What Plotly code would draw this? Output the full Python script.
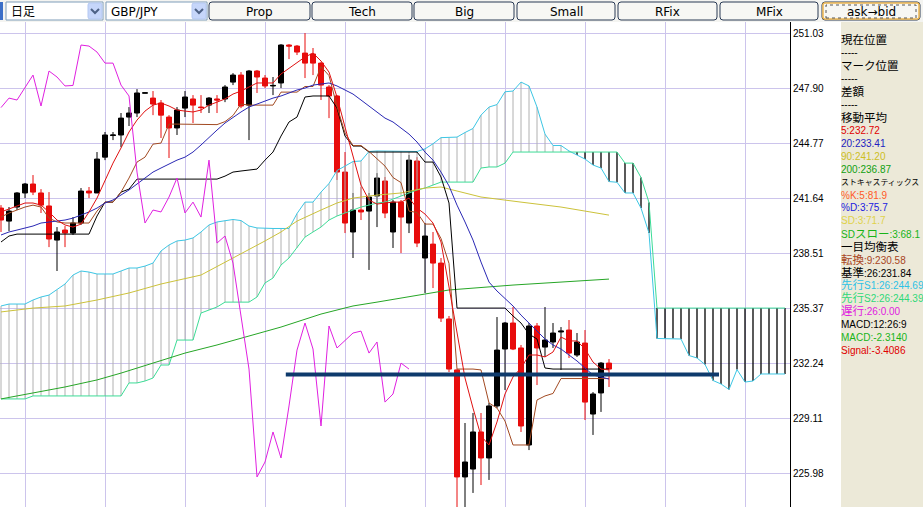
import plotly.graph_objects as go

# ---------------- DATA ----------------
bars = list(range(77))
opens = [241.07, 240.33, 241.13, 241.93, 242.44, 241.93, 241.19, 239.25, 239.82, 239.65,
         240.22, 242.04, 241.93, 243.97, 245.20, 245.23, 246.25, 246.48, 247.61, 247.33,
         247.05, 246.25, 245.63, 246.76, 247.28, 246.82, 246.93, 247.28, 247.28, 248.24,
         248.64, 246.93, 248.87, 248.47, 248.02, 248.19, 250.35, 250.29, 249.89, 249.84,
         249.32, 247.96, 247.45, 243.12, 239.71, 240.96, 240.90, 241.76, 242.61, 239.71,
         241.41, 240.22, 243.75, 238.23, 239.02, 237.94, 234.76, 231.86, 225.77, 226.22,
         228.33, 226.85, 229.81, 233.05, 234.53, 233.11, 227.59, 234.36, 233.16, 233.45,
         234.02, 234.13, 232.71, 233.39, 229.35, 230.55, 232.25]
highs = [241.24, 241.13, 241.98, 242.50, 242.95, 242.15, 241.98, 239.99, 240.05, 240.56,
         242.21, 242.27, 244.26, 245.40, 245.40, 246.48, 246.82, 247.84, 247.65, 247.73,
         247.22, 246.36, 246.82, 247.73, 247.50, 247.50, 247.39, 247.50, 248.07, 248.75,
         248.81, 248.93, 248.93, 248.64, 248.53, 250.40, 250.40, 250.35, 251.03, 250.18,
         249.38, 248.07, 247.50, 244.26, 241.93, 242.27, 241.93, 243.06, 242.84, 241.53,
         241.53, 244.09, 243.97, 240.22, 239.71, 238.23, 234.93, 231.90, 228.84, 229.41,
         229.41, 229.98, 234.87, 234.59, 235.44, 233.28, 234.53, 234.53, 235.44, 234.53,
         234.30, 234.70, 233.96, 234.13, 230.60, 232.31, 232.48]
lows = [239.71, 239.76, 240.96, 241.64, 241.81, 240.79, 238.85, 237.49, 238.85, 239.54,
        240.11, 241.64, 241.93, 243.80, 244.94, 244.54, 245.74, 246.25, 247.60, 246.36,
        245.06, 243.92, 245.23, 246.25, 245.91, 246.48, 246.48, 246.48, 247.10, 248.07,
        246.76, 244.94, 247.62, 247.90, 247.50, 247.90, 249.55, 249.78, 248.47, 248.64,
        247.22, 246.19, 242.67, 239.65, 238.23, 240.39, 237.55, 239.99, 240.50, 238.80,
        238.51, 239.65, 238.85, 236.24, 236.52, 234.59, 231.74, 219.70, 219.70, 224.86,
        225.31, 225.60, 229.69, 230.72, 232.99, 228.33, 227.30, 231.00, 232.60, 233.11,
        231.86, 232.54, 232.60, 229.01, 228.16, 229.47, 230.89]
closes = [240.39, 240.90, 241.93, 242.44, 241.98, 241.24, 239.31, 239.71, 239.65, 240.22,
          242.04, 241.93, 243.86, 245.23, 245.23, 246.19, 246.48, 247.62, 247.63, 246.99,
          246.36, 245.63, 246.65, 247.39, 246.93, 246.79, 247.33, 247.22, 247.96, 248.64,
          246.88, 248.87, 248.53, 248.02, 248.05, 250.35, 250.29, 249.95, 249.32, 249.32,
          248.07, 247.45, 243.12, 240.22, 240.96, 240.85, 241.70, 242.78, 240.79, 241.41,
          240.56, 243.80, 239.08, 239.48, 237.94, 234.81, 231.91, 225.77, 226.62, 228.33,
          226.85, 229.81, 232.99, 234.53, 233.05, 228.67, 234.36, 233.11, 233.56, 233.96,
          234.07, 232.82, 233.45, 230.03, 230.49, 232.25, 231.91]

ma5 = [240.85, 241.02, 241.19, 241.36, 241.36, 241.24, 240.85, 240.39, 240.11, 239.99,
       240.16, 240.85, 241.64, 242.67, 243.63, 244.49, 245.40, 246.08, 246.59, 246.93,
       247.05, 246.88, 246.65, 246.59, 246.54, 246.65, 246.93, 247.10, 247.28, 247.56,
       247.73, 247.96, 248.19, 248.19, 248.19, 248.70, 249.04, 249.38, 249.67, 249.89,
       249.44, 248.81, 247.39, 245.68, 243.97, 242.38, 241.53, 241.30, 241.36, 241.41,
       241.41, 241.64, 241.07, 240.73, 240.22, 239.14, 236.58, 233.96, 231.40, 229.69,
       228.10, 227.59, 228.90, 230.49, 231.46, 231.97, 232.71, 232.71, 232.60, 232.88,
       233.73, 233.51, 233.51, 233.05, 232.31, 231.91, 231.86]
ma20 = [239.54, 239.71, 239.82, 239.94, 240.05, 240.22, 240.28, 240.33, 240.39, 240.50,
        240.67, 240.85, 241.07, 241.36, 241.53, 241.81, 242.10, 242.44, 242.78, 243.12,
        243.35, 243.58, 243.80, 243.97, 244.26, 244.66, 245.11, 245.51, 245.91, 246.25,
        246.54, 246.82, 246.99, 247.16, 247.33, 247.45, 247.62, 247.79, 247.90, 248.07,
        248.13, 248.19, 248.02, 247.79, 247.56, 247.22, 246.88, 246.54, 246.19, 245.97,
        245.63, 245.28, 244.83, 244.26, 243.80, 243.12, 242.33, 241.24, 240.28, 239.25,
        238.00, 236.86, 236.35, 235.95, 235.50, 234.98, 234.53, 234.13, 233.62, 233.28,
        233.05, 232.71, 232.37, 231.97, 231.57, 231.46, 231.34]
ma90_bar = [0, 4, 8, 12, 16, 20, 25, 29, 31, 33, 35, 37, 40, 42, 44, 47, 50, 53, 55, 60, 65, 70, 76]
ma90 = [235.16, 235.38, 235.50, 235.84, 236.24, 236.75, 237.26, 238.23, 238.68, 239.20, 239.71,
        240.33, 240.96, 241.36, 241.64, 241.81, 241.93, 242.21, 242.27, 241.70, 241.41, 241.13, 240.67]
ma200_bar = [0, 4, 8, 12, 15, 19, 23, 27, 31, 35, 40, 44, 47, 50, 56, 64, 70, 76]
ma200 = [230.21, 230.55, 230.89, 231.29, 231.68, 232.25, 232.82, 233.28, 233.79, 234.30,
         235.04, 235.50, 235.72, 235.95, 236.41, 236.69, 236.86, 237.03]

tenkan = [240.56, 240.79, 240.96, 241.13, 241.24, 241.13, 240.50, 240.28, 240.22, 240.22,
          240.22, 240.22, 240.90, 241.41, 241.41, 241.98, 242.78, 243.69, 243.97, 244.71,
          244.77, 245.85, 245.85, 245.85, 245.85, 245.85, 245.82, 245.82, 245.99, 246.34,
          246.99, 246.93, 246.93, 246.93, 246.93, 247.67, 247.67, 247.67, 247.99, 247.99,
          249.12, 248.61, 246.85, 245.34, 244.63, 244.63, 244.29, 243.86, 243.46, 242.81,
          242.52, 240.90, 240.82, 240.16, 240.16, 239.34, 237.92, 231.91, 231.91, 231.91,
          231.86, 229.98, 229.69, 228.95, 227.59, 227.59, 227.59, 230.15, 230.38, 230.52,
          231.37, 231.37, 231.37, 231.37, 231.37, 231.37, 231.37]
kijun = [239.14, 239.48, 239.59, 239.59, 239.59, 239.59, 239.59, 239.59, 239.59, 239.59,
         239.59, 239.59, 240.62, 241.41, 241.41, 241.98, 242.15, 242.72, 242.72, 242.72,
         242.72, 242.72, 242.72, 242.72, 242.72, 242.72, 242.72, 242.72, 242.89, 243.12,
         243.18, 243.24, 243.29, 243.80, 244.26, 245.17, 245.97, 246.25, 247.39, 247.45,
         247.45, 247.45, 246.76, 245.17, 244.60, 244.60, 244.26, 244.26, 244.26, 244.26,
         244.26, 244.26, 244.26, 243.69, 243.69, 242.84, 241.36, 235.38, 235.38, 235.38,
         235.38, 235.38, 235.38, 235.38, 234.93, 234.53, 233.90, 233.62, 231.97, 231.91,
         231.91, 231.91, 231.91, 231.91, 231.91, 231.91, 231.91]

span_bar = list(range(99))
span1 = [235.50, 235.61, 235.61, 235.61, 235.84, 236.01, 236.12, 236.41, 236.75, 237.26,
         237.49, 237.43, 237.32, 237.32, 237.32, 237.49, 237.66, 237.66, 237.77, 237.94,
         238.63, 238.97, 239.20, 239.25, 239.37, 239.71, 240.11, 240.28, 240.36, 240.42,
         240.36, 240.05, 239.94, 239.91, 239.91, 239.91, 239.91, 240.76, 241.41, 241.41,
         241.98, 242.47, 243.21, 243.46, 243.72, 243.75, 244.29, 244.32, 244.32, 244.32,
         244.32, 244.29, 244.29, 244.44, 244.73, 245.08, 245.08, 245.11, 245.37, 245.60,
         246.36, 246.82, 246.96, 247.69, 247.73, 248.24, 248.02, 246.82, 245.28, 244.63,
         244.63, 244.32, 244.09, 243.86, 243.52, 243.35, 242.58, 242.54, 241.93, 241.93,
         241.07, 239.65, 233.65, 233.65, 233.65, 233.62, 232.68, 232.54, 232.17, 231.26,
         231.06, 230.75, 231.88, 231.17, 231.23, 231.63, 231.63, 231.63, 231.63]
span2 = [230.21, 230.21, 230.21, 230.21, 230.38, 230.38, 230.38, 230.38, 230.38, 230.38,
         230.38, 230.38, 230.38, 230.38, 230.38, 230.38, 231.12, 231.12, 231.23, 231.40,
         232.14, 232.14, 233.56, 233.56, 233.56, 235.10, 235.27, 235.44, 235.72, 235.72,
         235.72, 235.72, 236.01, 236.81, 237.09, 237.83, 238.23, 238.80, 239.42, 239.71,
         239.99, 240.39, 240.62, 240.79, 240.96, 241.13, 241.24, 241.36, 241.41, 241.59,
         241.76, 241.93, 242.10, 242.21, 242.38, 242.55, 242.55, 242.55, 242.55, 242.55,
         243.35, 243.41, 243.41, 243.63, 244.26, 244.26, 244.26, 244.26, 244.26, 244.26,
         244.26, 244.26, 244.26, 244.26, 244.26, 244.26, 244.26, 244.26, 243.63, 243.63,
         242.81, 241.39, 235.38, 235.38, 235.38, 235.38, 235.38, 235.38, 235.38, 235.38,
         235.38, 235.38, 235.38, 235.38, 235.38, 235.38, 235.38, 235.38, 235.38]
lag_shift = 25

trend_price = 231.60
trend_from = 35.6
trend_to = 89.75

price_ticks = [225.98, 229.11, 232.24, 235.37, 238.51, 241.64, 244.77, 247.90, 251.03]
grid_bars = [3, 13, 23, 33, 43, 53, 63, 73, 83, 93]

panel_rows = [
    ("現在位置", "#000000"), ("-----", "#000000"), ("マーク位置", "#000000"), ("-----", "#000000"),
    ("差額", "#000000"), ("-----", "#000000"), ("移動平均", "#000000"),
    ("5:232.72", "#E00000"), ("20:233.41", "#2222C0"), ("90:241.20", "#CDBE1E"),
    ("200:236.87", "#10A010"), ("ストキャスティックス", "#000000"), ("%K:5:81.9", "#FF5A28"),
    ("%D:3:75.7", "#2020E0"), ("SD:3:71.7", "#E0D24A"), ("SDスロー:3:68.1", "#18B418"),
    ("一目均衡表", "#000000"), ("転換:9:230.58", "#A8461E"), ("基準:26:231.84", "#000000"),
    ("先行S1:26:244.69", "#2EC2E6"), ("先行S2:26:244.39", "#30D878"), ("遅行:26:0.00", "#E020E0"),
    ("MACD:12:26:9", "#000000"), ("MACD:-2.3140", "#18B418"), ("Signal:-3.4086", "#E00000"),
]
buttons = ["Prop", "Tech", "Big", "Small", "RFix", "MFix", "ask→bid"]
dropdowns = ["日足", "GBP/JPY"]

# ---------------- FIGURE ----------------
W, H = 923, 507
PW, TOP = 790, 22
PH = H - TOP


def px(x):
    return x / PW


def py(y):
    return (H - y) / PH


def mixed(txt, cjk_size=11.5):
    """Latin runs small, CJK runs larger (mimics the proportional UI font)."""
    out, run, run_cjk = [], "", None
    for ch in txt:
        c = ord(ch) > 0x2000
        if run_cjk is None or c == run_cjk:
            run += ch
        else:
            out.append((run, run_cjk)); run = ch
        run_cjk = c
    if run:
        out.append((run, run_cjk))
    return "".join(f'<span style="font-size:{cjk_size}px">{r}</span>' if c else r for r, c in out)


fig = go.Figure()

# cloud hatching
gx, gy, bx, by = [], [], [], []
for j, a, b in zip(span_bar, span1, span2):
    if a >= b:
        gx += [j, j, None]; gy += [a, b, None]
    else:
        bx += [j, j, None]; by += [a, b, None]
fig.add_trace(go.Scatter(x=gx, y=gy, mode="lines", line=dict(color="#B0B0B0", width=1),
                         hoverinfo="skip", showlegend=False))
fig.add_trace(go.Scatter(x=bx, y=by, mode="lines", line=dict(color="#000000", width=1.3),
                         hoverinfo="skip", showlegend=False))
fig.add_trace(go.Scatter(x=span_bar, y=span1, mode="lines", line=dict(color="#3CC6E4", width=1),
                         hoverinfo="skip", showlegend=False))
fig.add_trace(go.Scatter(x=span_bar, y=span2, mode="lines", line=dict(color="#3CDC96", width=1),
                         hoverinfo="skip", showlegend=False))
fig.add_trace(go.Scatter(x=ma200_bar, y=ma200, mode="lines", line=dict(color="#26A626", width=1),
                         hoverinfo="skip", showlegend=False))
fig.add_trace(go.Scatter(x=ma90_bar, y=ma90, mode="lines", line=dict(color="#CCC23A", width=1),
                         hoverinfo="skip", showlegend=False))

fig.add_trace(go.Candlestick(
    x=bars, open=opens, high=highs, low=lows, close=closes,
    increasing=dict(line=dict(color="#000000", width=1), fillcolor="#000000"),
    decreasing=dict(line=dict(color="#E80C0C", width=1), fillcolor="#E80C0C"),
    whiskerwidth=0, hoverinfo="skip", showlegend=False))

fig.add_trace(go.Scatter(x=bars, y=kijun, mode="lines", line=dict(color="#000000", width=1),
                         hoverinfo="skip", showlegend=False))
fig.add_trace(go.Scatter(x=bars, y=tenkan, mode="lines", line=dict(color="#A24A22", width=1),
                         hoverinfo="skip", showlegend=False))
fig.add_trace(go.Scatter(x=bars, y=ma20, mode="lines", line=dict(color="#2A28B4", width=1),
                         hoverinfo="skip", showlegend=False))
fig.add_trace(go.Scatter(x=bars, y=ma5, mode="lines", line=dict(color="#E01010", width=1),
                         hoverinfo="skip", showlegend=False))
fig.add_trace(go.Scatter(x=bars[:len(bars) - lag_shift], y=closes[lag_shift:], mode="lines",
                         line=dict(color="#E020E0", width=1), hoverinfo="skip", showlegend=False))
fig.add_trace(go.Scatter(x=[trend_from, trend_to], y=[trend_price, trend_price], mode="lines",
                         line=dict(color="#0E3A6C", width=4), hoverinfo="skip", showlegend=False))

shapes = []
annotations = []

# right info panel
shapes.append(dict(type="rect", xref="paper", yref="paper", x0=px(841), x1=px(W), y0=py(H), y1=py(TOP),
                   fillcolor="#ECE9D8", line=dict(width=0), layer="above"))
for k, (txt, col) in enumerate(panel_rows):
    cjk_size = 7.9 if txt == "ストキャスティックス" else 11.5
    annotations.append(dict(xref="paper", yref="paper", x=px(839.5), y=py(40 + 12.92 * k),
                            xanchor="left", yanchor="middle", text=mixed(txt, cjk_size), showarrow=False,
                            font=dict(family="Liberation Sans, Noto Sans CJK JP, sans-serif",
                                      size=10, color=col)))

# toolbar
shapes.append(dict(type="rect", xref="paper", yref="paper", x0=px(0), x1=px(W), y0=py(TOP), y1=py(0),
                   fillcolor="#F4F4F1", line=dict(width=0), layer="above"))


def rrect(x0, y0, x1, y1, r):
    pts = [
        f"M{px(x0 + r)},{py(y0)}", f"L{px(x1 - r)},{py(y0)}", f"Q{px(x1)},{py(y0)} {px(x1)},{py(y0 + r)}",
        f"L{px(x1)},{py(y1 - r)}", f"Q{px(x1)},{py(y1)} {px(x1 - r)},{py(y1)}",
        f"L{px(x0 + r)},{py(y1)}", f"Q{px(x0)},{py(y1)} {px(x0)},{py(y1 - r)}",
        f"L{px(x0)},{py(y0 + r)}", f"Q{px(x0)},{py(y0)} {px(x0 + r)},{py(y0)}", "Z"]
    return " ".join(pts)


shapes.append(dict(type="rect", xref="paper", yref="paper", x0=px(0), x1=px(3), y0=py(20), y1=py(2),
                   fillcolor="#3C6FC8", line=dict(width=0), layer="above"))
dd_boxes = [(6, 103), (106, 207)]
for (x0, x1), txt in zip(dd_boxes, dropdowns):
    shapes.append(dict(type="rect", xref="paper", yref="paper", x0=px(x0), x1=px(x1), y0=py(20), y1=py(2),
                       fillcolor="#FFFFFF", line=dict(color="#7F9DB9", width=1), layer="above"))
    shapes.append(dict(type="path", xref="paper", yref="paper", path=rrect(x1 - 15, 3, x1 - 1, 19, 2),
                       fillcolor="#C6D6FA", line=dict(color="#B4C8F2", width=1), layer="above"))
    cx = x1 - 8
    shapes.append(dict(type="path", xref="paper", yref="paper",
                       path=f"M{px(cx - 4)},{py(9)} L{px(cx)},{py(13)} L{px(cx + 4)},{py(9)}",
                       line=dict(color="#4D6185", width=2), layer="above"))
    annotations.append(dict(xref="paper", yref="paper", x=px(x0 + 3), y=py(11.5), xanchor="left",
                            yanchor="middle", text=txt, showarrow=False,
                            font=dict(family="DejaVu Sans, Noto Sans CJK JP", size=12, color="#000000")))

btn_boxes = [(209, 310), (312, 412), (414, 514), (517, 615), (618, 717), (720, 818), (822, 920)]
for (x0, x1), txt in zip(btn_boxes, buttons):
    shapes.append(dict(type="path", xref="paper", yref="paper", path=rrect(x0, 2, x1, 20, 3),
                       fillcolor="#F7F7F4", line=dict(color="#2A3A55", width=1), layer="above"))
    annotations.append(dict(xref="paper", yref="paper", x=px((x0 + x1) / 2), y=py(11.5), xanchor="center",
                            yanchor="middle", text=txt, showarrow=False,
                            font=dict(family="DejaVu Sans, Noto Sans CJK JP", size=12, color="#000000")))
# focused button decoration (drawn beneath the button labels)
shapes.append(dict(type="path", xref="paper", yref="paper", path=rrect(823, 3, 919, 19, 2),
                   line=dict(color="#F0B850", width=1.5), layer="above"))
shapes.append(dict(type="rect", xref="paper", yref="paper", x0=px(826), x1=px(916), y0=py(18), y1=py(5),
                   line=dict(color="#555555", width=1, dash="dot"), layer="above"))

fig.update_layout(
    width=W, height=H,
    margin=dict(l=0, r=W - PW, t=TOP, b=0, pad=0),
    paper_bgcolor="#FFFFFF", plot_bgcolor="#FFFFFF",
    showlegend=False, boxgap=0.375, boxgroupgap=0,
    shapes=shapes, annotations=annotations,
    xaxis=dict(range=[-0.125, 98.625], tickvals=grid_bars, showticklabels=False, ticks="",
               showgrid=True, gridcolor="#CCC4EC", gridwidth=1, zeroline=False, showline=False,
               rangeslider=dict(visible=False), fixedrange=True),
    yaxis=dict(range=[224.06, 251.66], side="right", tickvals=price_ticks,
               ticktext=[f"{v:.2f}" for v in price_ticks], ticks="",
               showgrid=True, gridcolor="#CCC4EC", gridwidth=1, zeroline=False,
               showline=True, linecolor="#000000", linewidth=1,
               tickfont=dict(family="Liberation Sans, Arial", size=10, color="#000000"),
               fixedrange=True),
)

fig.write_html("out.html",
               config={"displayModeBar": False},
               post_script="document.body.style.margin='0px';document.body.style.overflow='hidden';")
